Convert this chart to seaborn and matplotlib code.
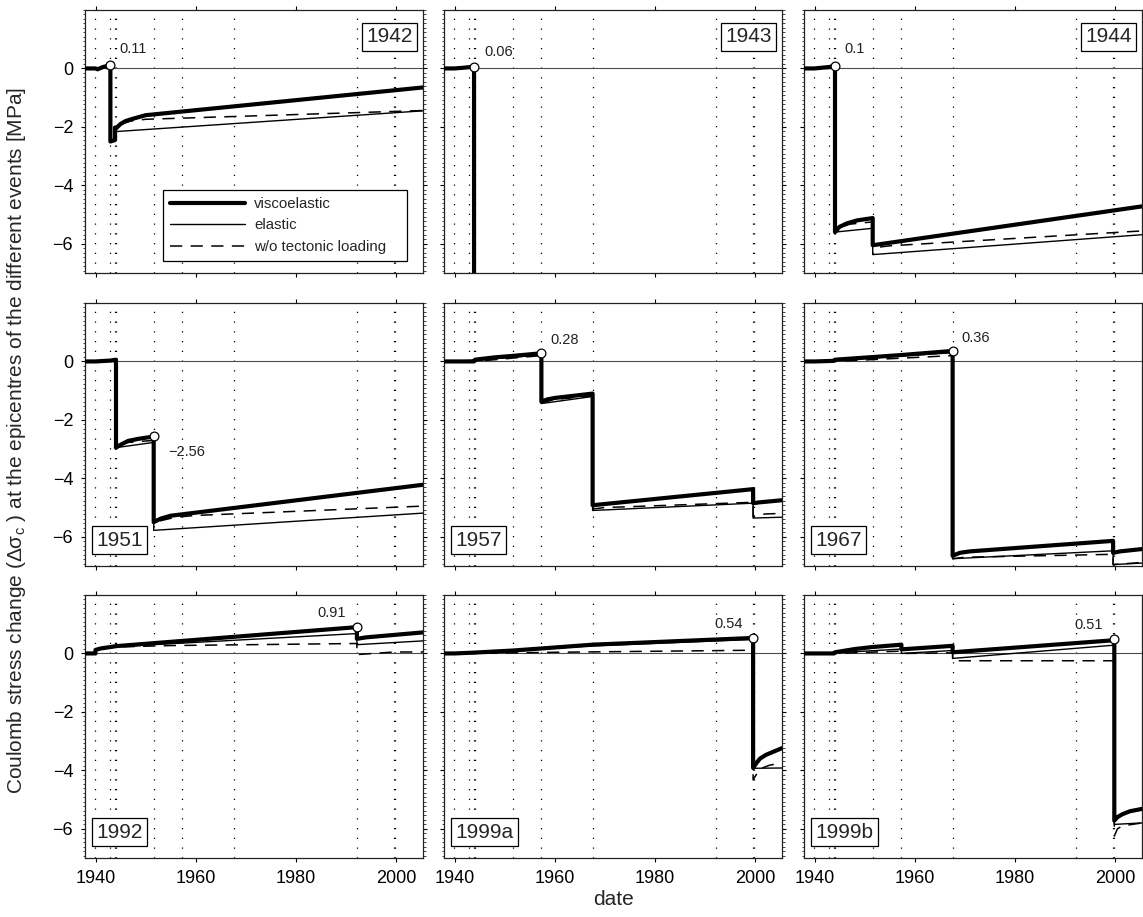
import matplotlib
matplotlib.use("Agg")
import matplotlib.pyplot as plt
from matplotlib.lines import Line2D
from matplotlib.ticker import MultipleLocator
import numpy as np
import pandas as pd
import seaborn as sns

# ---------------- data ----------------
PANEL_NAMES = ["1942", "1943", "1944", "1951", "1957", "1967", "1992", "1999a", "1999b"]
EVENT_DATES = [1939.99, 1942.97, 1943.90, 1944.09, 1951.62, 1957.35, 1967.58,
               1992.20, 1999.63, 1999.87]
MARKER_DATES = [1942.97, 1943.90, 1944.09, 1951.62, 1957.35, 1967.58, 1992.20, 1999.63, 1999.87]
MARKER_VALUES = [0.11, 0.06, 0.10, -2.56, 0.28, 0.36, 0.91, 0.54, 0.51]
MARKER_LABELS = ["0.11", "0.06", "0.1", "\u22122.56", "0.28", "0.36", "0.91", "0.54", "0.51"]
X_TICKS = [1940, 1960, 1980, 2000]
Y_TICKS = [-6, -4, -2, 0]
Y_TICK_LABELS = ["\u22126", "\u22124", "\u22122", "0"]
LEGEND_LABELS = ["viscoelastic", "elastic", "w/o tectonic loading"]

# (date, stress change in MPa) breakpoints
visco_1942 = [(1937.9, 0), (1939.99, 0), (1940.4, -0.03), (1941.5, 0.05), (1942.97, 0.11),
              (1942.97, -2.5), (1943.90, -2.45), (1943.90, -2.02), (1944.09, -2.05),
              (1945, -1.9), (1946, -1.8), (1947.5, -1.72), (1950, -1.6), (2005.4, -0.65)]
elast_1942 = [(1937.9, 0), (1939.99, 0), (1942.97, 0.06), (1942.97, -2.5), (1943.90, -2.48),
              (1943.90, -2.15), (1944.09, -2.16), (2005.4, -1.45)]
notec_1942 = [(1937.9, 0), (1942.97, 0), (1942.97, -2.5), (1943.90, -2.48), (1943.90, -2.05),
              (1945, -1.92), (1947, -1.8), (1950, -1.74), (2005.4, -1.44)]

visco_1943 = [(1937.9, 0), (1939.99, 0), (1941.5, 0.02), (1943.90, 0.06), (1943.90, -10), (2005.4, -10)]
elast_1943 = [(1937.9, 0), (1939.99, 0), (1943.90, 0.04), (1943.90, -10), (2005.4, -10)]
notec_1943 = [(1937.9, 0), (1943.90, 0), (1943.90, -10), (2005.4, -10)]

visco_1944 = [(1937.9, 0), (1939.99, 0), (1942.97, 0.05), (1944.09, 0.10), (1944.09, -5.6),
              (1945, -5.42), (1946.5, -5.3), (1948.5, -5.2), (1951.62, -5.12), (1951.62, -6.05),
              (2005.4, -4.72)]
elast_1944 = [(1937.9, 0), (1944.09, 0.07), (1944.09, -5.6), (1951.62, -5.47), (1951.62, -6.37),
              (2005.4, -5.69)]
notec_1944 = [(1937.9, 0), (1944.09, 0), (1944.09, -5.6), (1945, -5.45), (1947, -5.33),
              (1951.62, -5.25), (1951.62, -6.14), (1955, -6.07), (2005.4, -5.56)]

visco_1951 = [(1937.9, 0), (1939.99, 0), (1942.97, 0.03), (1944.09, 0.06), (1944.09, -2.95),
              (1945, -2.85), (1946.5, -2.72), (1948.5, -2.65), (1951.62, -2.57), (1951.62, -5.5),
              (1953, -5.38), (1955, -5.28), (2005.4, -4.22)]
elast_1951 = [(1937.9, 0), (1944.09, 0.04), (1944.09, -2.95), (1951.62, -2.77), (1951.62, -5.78),
              (2005.4, -5.19)]
notec_1951 = [(1937.9, 0), (1944.09, 0), (1944.09, -2.95), (1946, -2.78), (1951.62, -2.7),
              (1951.62, -5.58), (1953, -5.45), (1956, -5.33), (1960, -5.27), (2005.4, -4.95)]

visco_1957 = [(1937.9, 0), (1939.99, 0), (1943.90, 0.0), (1944.09, 0.06), (1948, 0.14),
              (1951.62, 0.19), (1957.35, 0.28), (1957.35, -1.38), (1958.5, -1.3), (1960, -1.25),
              (1967.58, -1.1), (1967.58, -4.92), (1999.63, -4.37), (1999.63, -4.85), (2001, -4.82),
              (2005.4, -4.75)]
elast_1957 = [(1937.9, 0), (1944.09, 0.04), (1957.35, 0.22), (1957.35, -1.44), (1967.58, -1.2),
              (1967.58, -5.1), (1999.63, -4.85), (1999.63, -5.36), (2005.4, -5.33)]
notec_1957 = [(1937.9, 0), (1944.09, 0), (1957.35, 0.2), (1957.35, -1.42), (1960, -1.3),
              (1967.58, -1.18), (1967.58, -5.05), (1970, -5.0), (1999.63, -4.82), (1999.63, -5.3),
              (2002, -5.22), (2005.4, -5.2)]

visco_1967 = [(1937.9, 0), (1939.99, 0), (1943.90, 0.02), (1944.09, 0.06), (1951.62, 0.15),
              (1957.35, 0.22), (1967.58, 0.36), (1967.58, -6.65), (1969, -6.55), (1971, -6.5),
              (1999.63, -6.14), (1999.63, -6.55), (2001, -6.5), (2005.4, -6.42)]
elast_1967 = [(1937.9, 0), (1944.09, 0.04), (1967.58, 0.3), (1967.58, -6.75), (1999.63, -6.48),
              (1999.63, -6.95), (2005.4, -6.9)]
notec_1967 = [(1937.9, 0), (1944.09, 0), (1967.58, 0.2), (1967.58, -6.75), (1970, -6.7),
              (1999.63, -6.6), (1999.63, -6.95), (2005.4, -6.88)]

visco_1992 = [(1937.9, 0), (1939.99, 0), (1939.99, 0.12), (1941, 0.17), (1943, 0.22),
              (1944.09, 0.25), (1992.20, 0.9), (1992.20, 0.5), (1994, 0.55), (2005.4, 0.72)]
elast_1992 = [(1937.9, 0), (1939.99, 0), (1939.99, 0.12), (1943, 0.2), (1944.09, 0.23),
              (1992.20, 0.68), (1992.20, 0.3), (2005.4, 0.43)]
notec_1992 = [(1937.9, 0), (1939.99, 0), (1939.99, 0.12), (1943, 0.2), (1944.09, 0.22),
              (1955, 0.27), (1992.20, 0.34), (1992.20, -0.04), (1999.63, 0.05), (2005.4, 0.05)]

visco_1999a = [(1937.9, 0), (1939.99, 0), (1944.09, 0.03), (1951.62, 0.1), (1957.35, 0.17),
               (1967.58, 0.3), (1999.63, 0.53), (1999.63, -3.92), (2000.3, -3.75), (2001, -3.6),
               (2002.2, -3.47), (2005.4, -3.24)]
elast_1999a = [(1937.9, 0), (1944.09, 0.02), (1967.58, 0.26), (1999.63, 0.48), (1999.63, -3.93),
               (2005.4, -3.92)]
notec_1999a = [(1937.9, 0), (1944.09, 0), (1960, 0.04), (1999.63, 0.11), (1999.63, -4.32),
               (2001, -3.95), (2003, -3.82), (2005.4, -3.75)]

visco_1999b = [(1937.9, 0), (1939.99, 0), (1943.90, 0.0), (1944.09, 0.04), (1948, 0.15),
               (1951.62, 0.22), (1957.35, 0.3), (1957.35, 0.14), (1967.58, 0.26), (1967.58, 0.04),
               (1999.63, 0.45), (1999.87, 0.5), (1999.87, -5.72), (2000.5, -5.6), (2001.5, -5.5),
               (2003, -5.4), (2005.4, -5.32)]
elast_1999b = [(1937.9, 0), (1944.09, 0.02), (1957.35, 0.15), (1957.35, 0.0), (1967.58, 0.1),
               (1967.58, -0.17), (1999.63, 0.28), (1999.87, 0.3), (1999.87, -5.85), (2005.4, -5.8)]
notec_1999b = [(1937.9, 0), (1944.09, 0), (1957.35, 0.08), (1957.35, 0.0), (1967.58, 0.02),
               (1967.58, -0.25), (1999.87, -0.25), (1999.87, -6.25), (2000.5, -6.0), (2001.5, -5.9),
               (2005.4, -5.8)]

VISCO = [visco_1942, visco_1943, visco_1944, visco_1951, visco_1957, visco_1967,
         visco_1992, visco_1999a, visco_1999b]
ELAST = [elast_1942, elast_1943, elast_1944, elast_1951, elast_1957, elast_1967,
         elast_1992, elast_1999a, elast_1999b]
NOTEC = [notec_1942, notec_1943, notec_1944, notec_1951, notec_1957, notec_1967,
         notec_1992, notec_1999a, notec_1999b]

# ---------------- style ----------------
sns.set_style("ticks")
plt.rcParams['font.family'] = ['Liberation Sans', 'DejaVu Sans']
plt.rcParams['mathtext.fontset'] = 'custom'
plt.rcParams['mathtext.rm'] = 'Liberation Sans'
plt.rcParams['mathtext.it'] = 'Liberation Sans:italic'
plt.rcParams['mathtext.bf'] = 'Liberation Sans:bold'

W, H = 1143, 917
fig = plt.figure(figsize=(W / 100, H / 100), dpi=100)

COL_LEFT = [85, 444, 804]
ROW_TOP = [10, 303, 595]
AX_W, AX_H = 338, 263

LABEL_OFFSETS = [(6.5, 11.7, 'left'), (7.2, 10.6, 'left'), (6.5, 11.7, 'left'),
                 (10.8, -11.5, 'left'), (6.8, 9.4, 'left'), (6.5, 9.6, 'left'),
                 (-7.7, 10.3, 'right'), (-7.2, 9.9, 'right'), (-7.9, 10.0, 'right')]

THICK, THIN = 3.0, 1.0
DASH = (0, (8, 5.5))

for i, name in enumerate(PANEL_NAMES):
    r, c = divmod(i, 3)
    left = COL_LEFT[c] / W
    bottom = 1 - (ROW_TOP[r] + AX_H) / H
    ax = fig.add_axes([left, bottom, AX_W / W, AX_H / H])

    for d in EVENT_DATES:
        ax.axvline(d, color='black', lw=0.9, ls=(0, (1, 6.8)), zorder=1)
    ax.axhline(0, color='0.3', lw=0.8, zorder=1.5)

    for series, lw, ls, z in [(VISCO[i], THICK, '-', 3), (NOTEC[i], 1.1, DASH, 3.5),
                              (ELAST[i], THIN, '-', 4)]:
        df = pd.DataFrame(series, columns=["date", "stress"])
        sns.lineplot(data=df, x="date", y="stress", ax=ax, estimator=None, sort=False,
                     color='black', linewidth=lw, linestyle=ls, zorder=z)

    mdf = pd.DataFrame({"date": [MARKER_DATES[i]], "stress": [MARKER_VALUES[i]]})
    sns.scatterplot(data=mdf, x="date", y="stress", ax=ax, s=40, color='white',
                    edgecolor='black', linewidth=0.9, zorder=6, clip_on=False)
    dx, dy, ha = LABEL_OFFSETS[i]
    ax.annotate(MARKER_LABELS[i], (MARKER_DATES[i], MARKER_VALUES[i]),
                xytext=(dx, dy), textcoords='offset points', ha=ha, va='center',
                fontsize=10.5, color='#222222')

    pad_px = 4.4
    box = dict(boxstyle='square,pad=0.21', fc='white', ec='black', lw=0.9)
    if r == 0:
        ax.text(1 - (6 + pad_px) / AX_W, 1 - (13 + pad_px) / AX_H, name,
                transform=ax.transAxes, ha='right', va='top', fontsize=15, bbox=box, zorder=7)
    else:
        ax.text((7 + pad_px) / AX_W, (12 + pad_px) / AX_H, name,
                transform=ax.transAxes, ha='left', va='bottom', fontsize=15, bbox=box, zorder=7)

    ax.set_xlim(1937.9, 2005.4)
    ax.set_ylim(-7, 2)
    ax.set_xticks(X_TICKS)
    ax.set_yticks(Y_TICKS)
    ax.yaxis.set_minor_locator(MultipleLocator(2 / 13))
    ax.set_xlabel("")
    ax.set_ylabel("")
    if c == 0:
        ax.set_yticklabels(Y_TICK_LABELS)
    else:
        ax.set_yticklabels([])
    if r == 2:
        ax.set_xticklabels([str(t) for t in X_TICKS])
    else:
        ax.set_xticklabels([])
    ax.tick_params(axis='both', which='major', direction='out', length=3, width=0.8,
                   top=True, right=True, labelsize=13, pad=5.5, colors='black')
    ax.tick_params(axis='y', which='minor', direction='out', length=1.8, width=0.6,
                   left=True, right=True)
    for sp in ax.spines.values():
        sp.set_visible(True)
        sp.set_linewidth(0.9)
        sp.set_color('#222222')

    if i == 0:
        handles = [Line2D([], [], color='black', lw=THICK),
                   Line2D([], [], color='black', lw=THIN),
                   Line2D([], [], color='black', lw=1.1, ls=DASH)]
        leg = ax.legend(handles, LEGEND_LABELS, loc='lower left',
                        bbox_to_anchor=(0.209, 0.019, 0.767, 0.274), mode='expand',
                        fontsize=10.8, handlelength=5.0, handletextpad=0.6,
                        labelspacing=0.5, borderpad=0.45, fancybox=False,
                        framealpha=1, edgecolor='black')
        leg.get_frame().set_linewidth(0.9)
        leg.set_zorder(8)

fig.text(17 / W, 1 - 440 / H,
         r"Coulomb stress change ($\mathregular{\Delta\sigma_c}$ ) at the epicentres of the different events [MPa]",
         rotation=90, ha='center', va='center', fontsize=15)
fig.text(613 / W, 1 - 905 / H, "date", ha='center', va='baseline', fontsize=15)

fig.savefig("out.png", dpi=100)
